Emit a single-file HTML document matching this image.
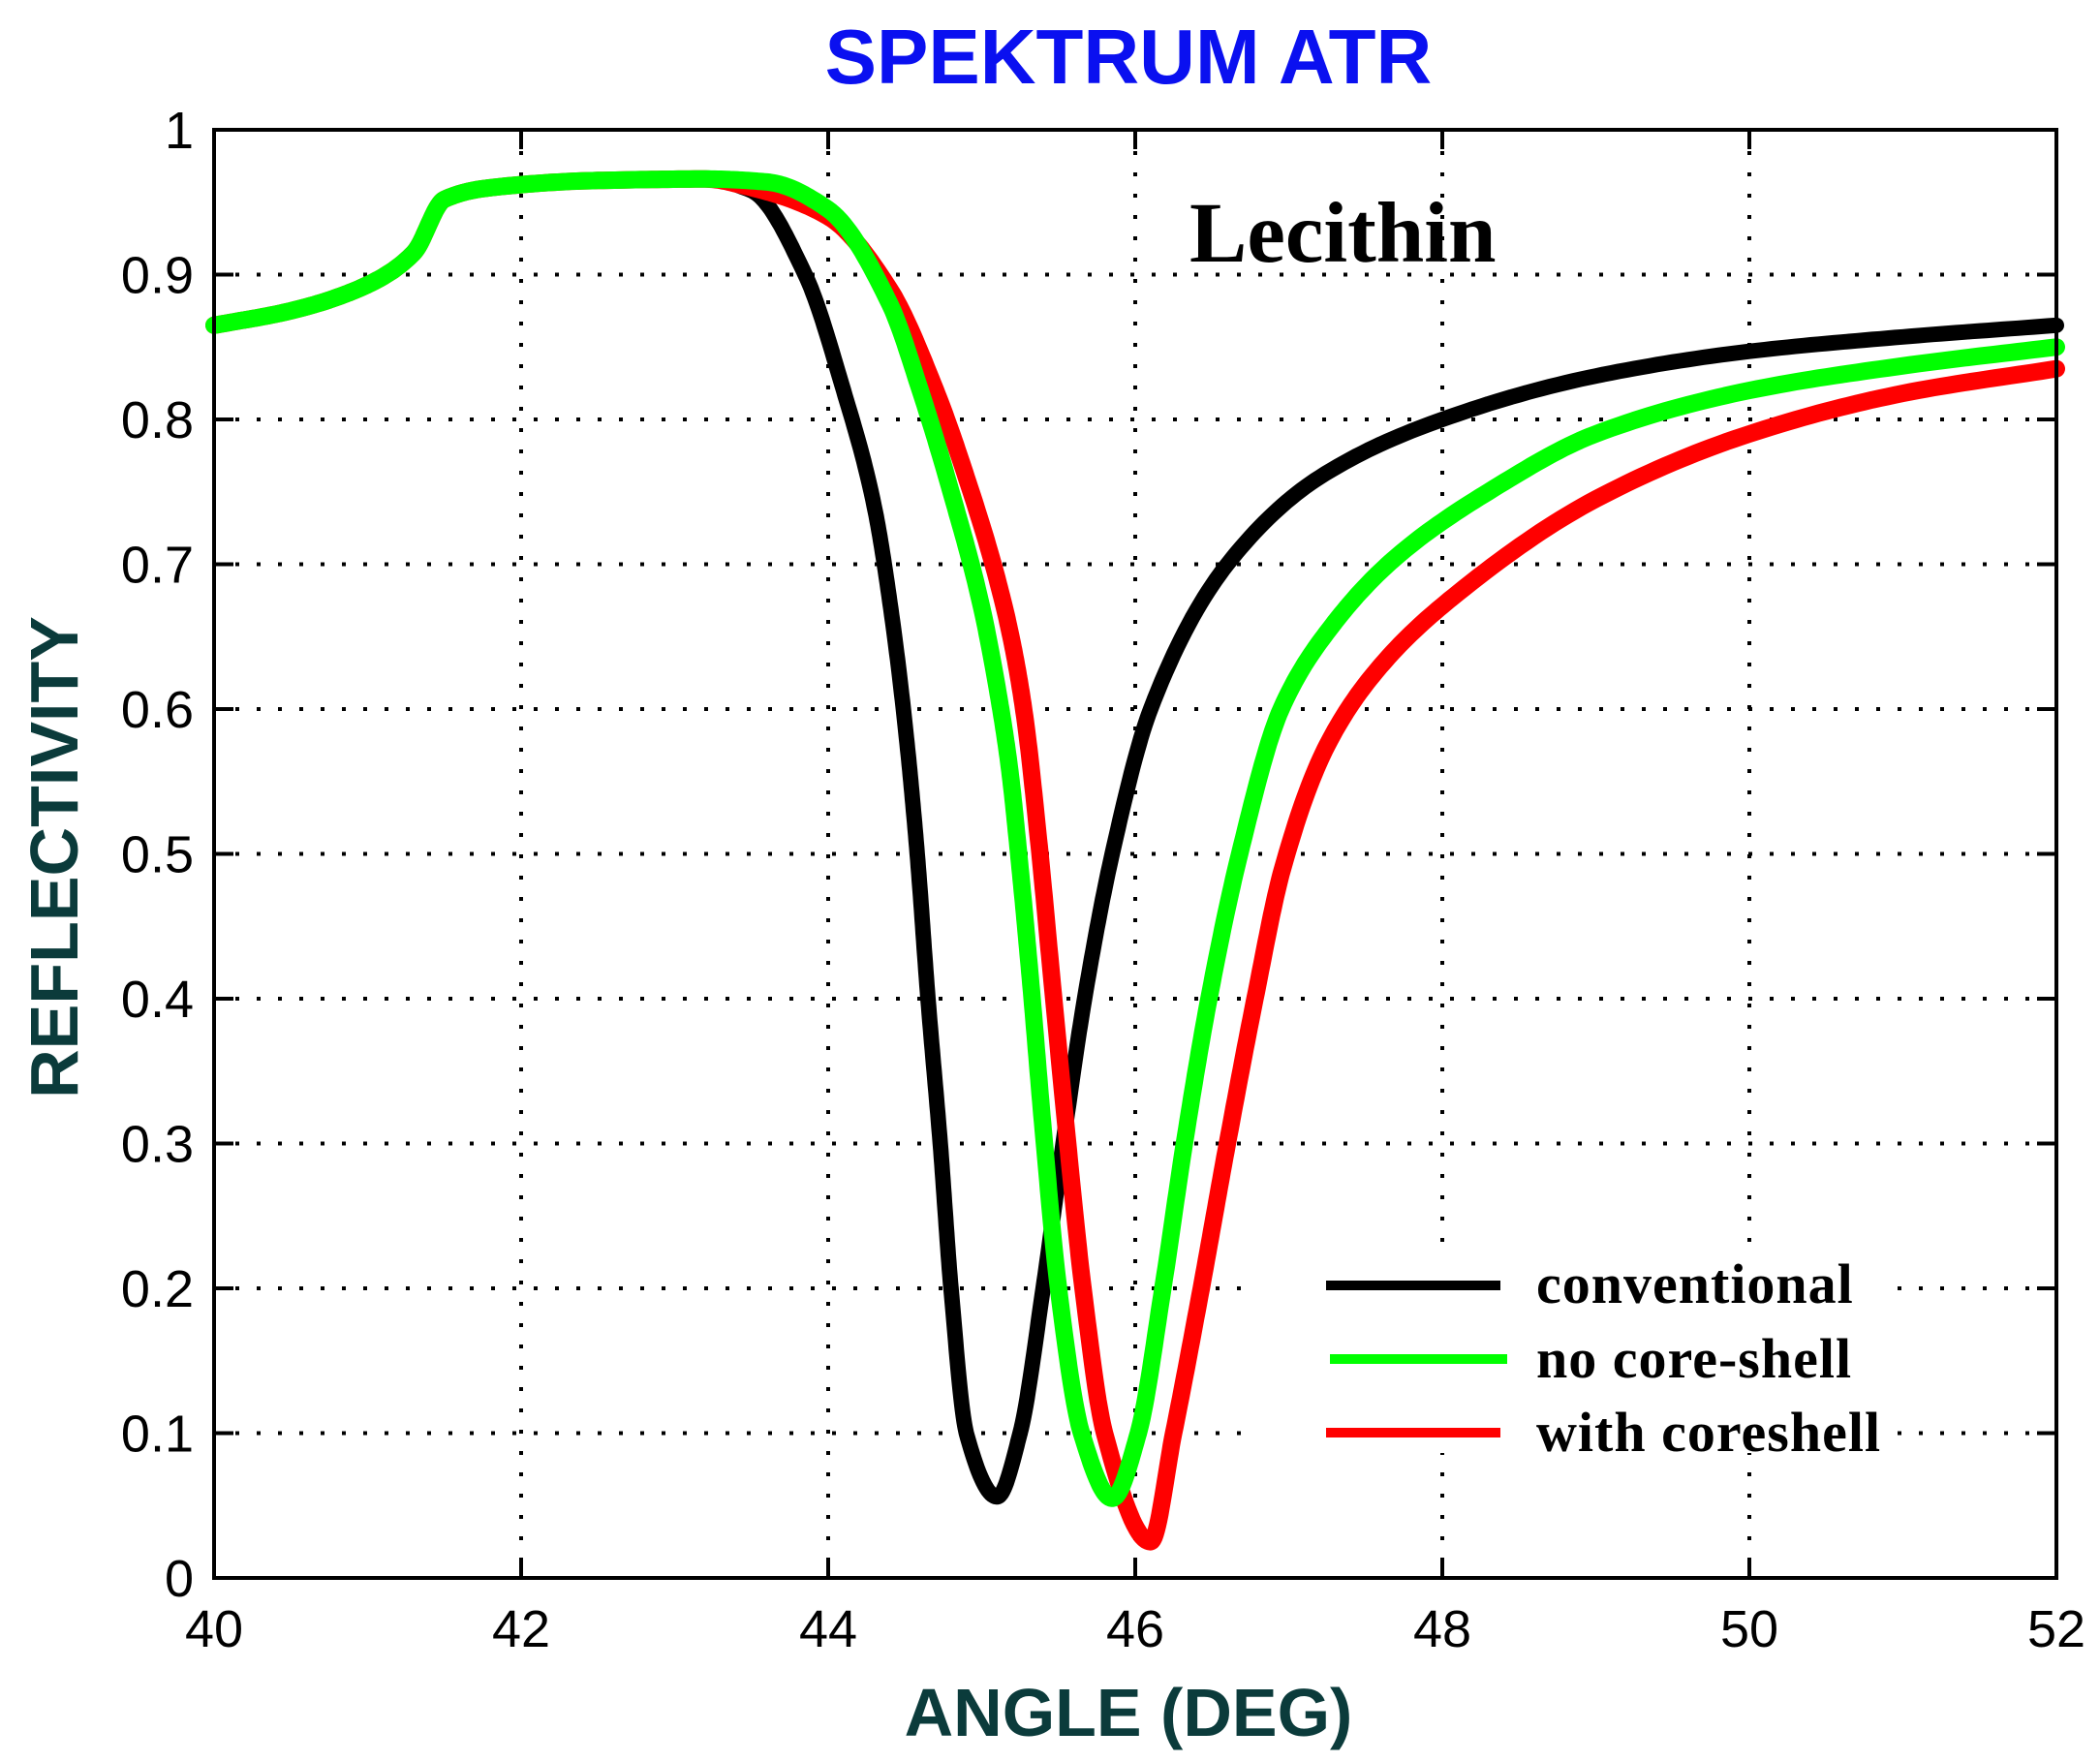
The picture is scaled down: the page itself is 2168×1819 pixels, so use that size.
<!DOCTYPE html>
<html><head><meta charset="utf-8"><style>
html,body{margin:0;padding:0;background:#fff}
svg{display:block}
</style></head><body>
<svg id="s" width="2168" height="1819" xmlns="http://www.w3.org/2000/svg">
<rect width="2168" height="1819" fill="#fff"/>
<g id="grid" stroke="#000" stroke-width="4" stroke-dasharray="4 18" fill="none"></g>
<g id="curves" fill="none" stroke-linejoin="round" stroke-linecap="round"></g>
<rect x="221" y="134" width="1902" height="1495" fill="none" stroke="#000" stroke-width="4"/>
<g id="ticks" stroke="#000" stroke-width="4"></g>
<g id="labels" font-family="'Liberation Sans',sans-serif" font-size="54" fill="#000"></g>
<text x="1165" y="86" text-anchor="middle" font-family="'Liberation Sans',sans-serif" font-weight="bold" font-size="80" fill="#0a10f0">SPEKTRUM ATR</text>
<text x="1165" y="1792" text-anchor="middle" font-family="'Liberation Sans',sans-serif" font-weight="bold" font-size="70" fill="#0b3b3b">ANGLE (DEG)</text>
<text transform="translate(80,885) rotate(-90)" text-anchor="middle" font-family="'Liberation Sans',sans-serif" font-weight="bold" font-size="70" fill="#0b3b3b">REFLECTIVITY</text>
<text x="1228" y="270" font-family="'Liberation Serif',serif" font-weight="bold" font-size="89" fill="#000">Lecithin</text>
<rect x="1290" y="1300" width="660" height="200" fill="#fff"/>
<line x1="1369" y1="1327" x2="1549" y2="1327" stroke="#000" stroke-width="10"/>
<line x1="1373" y1="1403" x2="1556" y2="1403" stroke="#00ff00" stroke-width="10"/>
<line x1="1369" y1="1479" x2="1549" y2="1479" stroke="#ff0000" stroke-width="10"/>
<g font-family="'Liberation Serif',serif" font-weight="bold" font-size="58" fill="#000" letter-spacing="1">
<text x="1586" y="1345">conventional</text>
<text x="1586" y="1422">no core-shell</text>
<text x="1586" y="1498">with coreshell</text>
</g>
</svg>
<script>
var L=221,R=2123,T=134,B=1629;
function X(a){return L+(a-40)/12*(R-L);}
function Y(r){return B-r*(B-T);}
var ns="http://www.w3.org/2000/svg";
function el(p,t,a){var e=document.createElementNS(ns,t);for(var k in a)e.setAttribute(k,a[k]);p.appendChild(e);return e;}
var g=document.getElementById('grid'),tk=document.getElementById('ticks'),lb=document.getElementById('labels');
for(var a=40;a<=52;a+=2){var x=X(a);
 if(a>40&&a<52)el(g,'line',{x1:x,y1:T,x2:x,y2:B});
 el(tk,'line',{x1:x,y1:B,x2:x,y2:B-20});el(tk,'line',{x1:x,y1:T,x2:x,y2:T+20});
 var t=el(lb,'text',{x:x,y:1700,'text-anchor':'middle'});t.textContent=a;}
for(var i=0;i<=10;i++){var y=Y(i/10);
 if(i>0&&i<10)el(g,'line',{x1:L,y1:y,x2:R,y2:y});
 el(tk,'line',{x1:L,y1:y,x2:L+20,y2:y});el(tk,'line',{x1:R,y1:y,x2:R-20,y2:y});
 var t=el(lb,'text',{x:200,y:y+19,'text-anchor':'end'});t.textContent=(i==0?'0':i==10?'1':(i/10).toFixed(1));}
var common=[[40,0.865],[40.5,0.875],[41,0.893],[41.3,0.915],[41.5,0.952],[41.8,0.96],[42.5,0.965],[43.2,0.966]];
var black=common.concat([[43.5,0.958],[43.85,0.9],[44.1,0.82],[44.3,0.74],[44.42,0.66],[44.51,0.58],[44.58,0.5],[44.65,0.4],[44.73,0.3],[44.8,0.2],[44.9,0.1],[45.1,0.056],[45.25,0.1],[45.4,0.2],[45.53,0.3],[45.67,0.4],[45.85,0.5],[46.1,0.6],[46.6,0.7],[47.2,0.76],[48,0.8],[49,0.83],[50,0.847],[51,0.857],[52,0.865]]);
var green=common.concat([[43.6,0.964],[44,0.945],[44.4,0.88],[44.6,0.82],[44.8,0.75],[45,0.67],[45.1,0.615],[45.18,0.56],[45.25,0.49],[45.32,0.41],[45.4,0.31],[45.5,0.2],[45.65,0.1],[45.85,0.055],[46.02,0.1],[46.18,0.2],[46.32,0.3],[46.48,0.4],[46.68,0.5],[46.95,0.6],[47.3,0.66],[47.7,0.705],[48.3,0.75],[49,0.79],[50,0.82],[51,0.837],[52,0.85]]);
var red=common.concat([[43.5,0.96],[44,0.94],[44.4,0.89],[44.7,0.82],[44.9,0.76],[45.1,0.69],[45.2,0.645],[45.28,0.595],[45.37,0.51],[45.46,0.41],[45.56,0.3],[45.66,0.2],[45.8,0.1],[46.1,0.025],[46.25,0.1],[46.43,0.2],[46.6,0.3],[46.78,0.4],[46.96,0.49],[47.25,0.575],[47.6,0.63],[48.1,0.68],[49,0.745],[50,0.79],[51,0.818],[52,0.835]]);
function mono(p){var n=p.length,d=[],m=[];
 for(var i=0;i<n-1;i++)d.push((p[i+1][1]-p[i][1])/(p[i+1][0]-p[i][0]));
 m[0]=d[0];m[n-1]=d[n-2];
 for(var i=1;i<n-1;i++){if(d[i-1]*d[i]<=0)m[i]=0;else{var h0=p[i][0]-p[i-1][0],h1=p[i+1][0]-p[i][0];var w1=2*h1+h0,w2=h1+2*h0;m[i]=(w1+w2)/(w1/d[i-1]+w2/d[i]);}}
 var s='';
 for(var i=0;i<n-1;i++){var h=p[i+1][0]-p[i][0];
  for(var k=0;k<20;k++){var t=k/20,t2=t*t,t3=t2*t;
   var y=(2*t3-3*t2+1)*p[i][1]+(t3-2*t2+t)*h*m[i]+(-2*t3+3*t2)*p[i+1][1]+(t3-t2)*h*m[i+1];
   var x=p[i][0]+t*h; s+=(s?' L':'M')+X(x).toFixed(1)+','+Y(y).toFixed(1);}}
 s+=' L'+X(p[n-1][0])+','+Y(p[n-1][1]);return s;}
var c=document.getElementById('curves');
el(c,'path',{d:mono(black),stroke:'#000',"stroke-width":16});
el(c,'path',{d:mono(red),stroke:'#ff0000',"stroke-width":18});
el(c,'path',{d:mono(green),stroke:'#00ff00',"stroke-width":18});
</script>
</body></html>
